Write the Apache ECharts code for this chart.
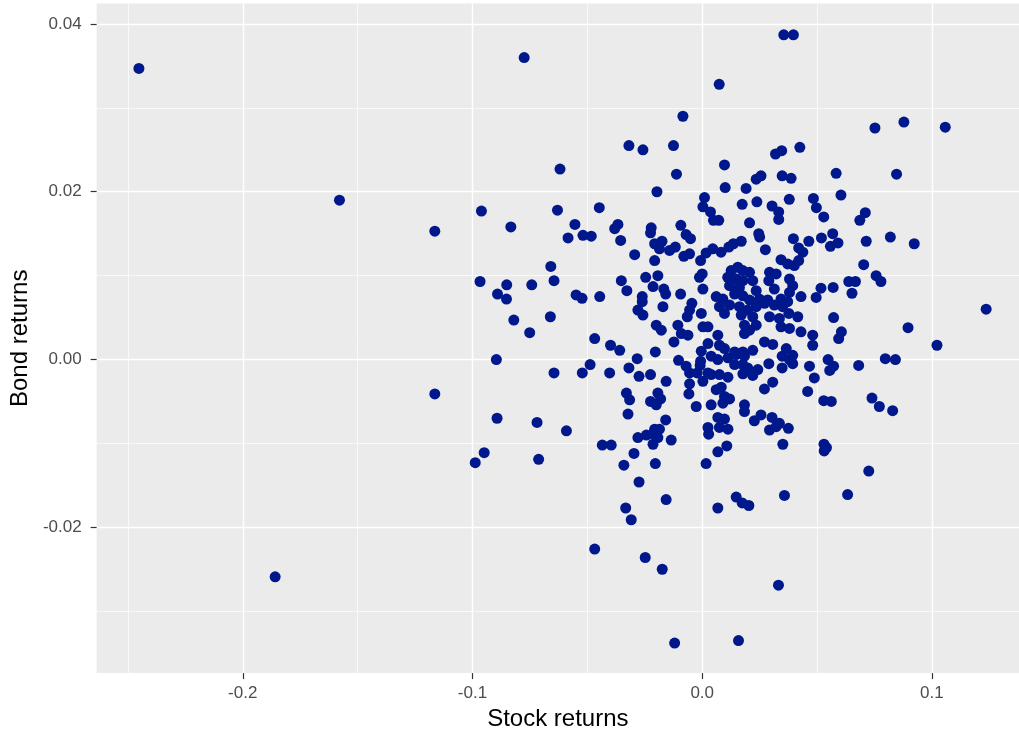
<!DOCTYPE html>
<html>
<head>
<meta charset="utf-8">
<script src="https://cdn.jsdelivr.net/npm/echarts@6/dist/echarts.min.js"></script>
<style>
  html, body { margin: 0; padding: 0; background: #fff; }
  #chart { width: 1019px; height: 736px; }
</style>
</head>
<body>
<div id="chart"></div>
<script>
// monthly returns (stock, bond)
var stockReturns = [
  -0.2452, -0.1579, -0.1859,
  -0.0775, -0.0619, -0.1164, -0.0961, -0.0833, -0.0630, -0.0554, -0.0448, -0.0584, -0.0519,
  -0.0483, -0.0659, -0.0967, -0.0851, -0.0742, -0.0645, -0.0891, -0.0852, -0.0549, -0.0523,
  -0.0446, -0.0820, -0.0661,
  -0.0751, -0.0468, -0.0896, -0.0645, -0.0522, -0.0488, -0.0403, -0.1164, -0.0893, -0.0719,
  -0.0591, -0.0435, -0.0396, -0.0949, -0.0988, -0.0712, -0.0468,
  0.0074, -0.0084, -0.0319, -0.0258, -0.0125, 0.0097, -0.0112,
  0.0355, 0.0397, 0.0752, 0.0878, 0.1058, 0.0425, 0.0319, 0.0346, 0.0583, 0.0846,
  -0.0197, 0.0010, 0.0003, 0.0036, 0.0049, -0.0367, -0.0381, -0.0355, -0.0222, -0.0225,
  -0.0093, -0.0070, -0.0051, -0.0207, -0.0175, -0.0186, -0.0142, -0.0117, -0.0294, -0.0080,
  -0.0055, -0.0207, -0.0007, 0.0017, 0.0046, -0.0352, -0.0328, -0.0246, -0.0193, -0.0214,
  -0.0167, -0.0159, -0.0094, -0.0012, 0.0000, 0.0003, -0.0261, -0.0261, -0.0171, -0.0280,
  -0.0258, -0.0045, -0.0055, -0.0065, -0.0004, -0.0200, -0.0178, -0.0106, -0.0091, -0.0062,
  0.0003, 0.0025, -0.0123, -0.0399, -0.0359, -0.0204, -0.0004, 0.0025,
  0.0072, 0.0100, 0.0191, 0.0235, 0.0256, 0.0348, 0.0387, 0.0174, 0.0238, 0.0304,
  0.0333, 0.0333, 0.0379, 0.0484, 0.0206, 0.0246, 0.0250, 0.0170, 0.0275, 0.0397,
  0.0420, 0.0438, 0.0464, 0.0082, 0.0116, 0.0136, 0.0343, 0.0372, 0.0401, 0.0420,
  0.0293, 0.0322, 0.0290, 0.0314, 0.0380, 0.0394, 0.0380, 0.0430,
  0.0126, 0.0155, 0.0177, 0.0206, 0.0111, 0.0148, 0.0177, 0.0220, 0.0119, 0.0162,
  0.0235, 0.0141, 0.0177, 0.0061, 0.0090, 0.0206, 0.0249, 0.0285, 0.0343, 0.0372,
  0.0075, 0.0119, 0.0162, 0.0198, 0.0235, 0.0271, 0.0314, 0.0350, 0.0097, 0.0170,
  0.0220, 0.0293, 0.0336, 0.0377, 0.0416, 0.0184, 0.0235, 0.0343, 0.0380, 0.0184,
  0.0206, 0.0430, 0.0481, 0.0068, 0.0271, 0.0307, 0.0075, 0.0097, 0.0481, 0.0141,
  0.0177, 0.0220, 0.0366, 0.0394,
  -0.0283, -0.0103, -0.0007, -0.0070, -0.0055, -0.0022, -0.0009, 0.0003, -0.0055, 0.0025,
  0.0039, 0.0039, -0.0319, -0.0275, -0.0225, -0.0157, -0.0330, -0.0316, -0.0225, -0.0193,
  -0.0181, -0.0200, -0.0058, -0.0026, 0.0039, -0.0323, -0.0159, -0.0280, -0.0243, -0.0207,
  -0.0186, -0.0214, -0.0193, -0.0214, -0.0135, 0.0025, 0.0028, -0.0297, -0.0341, -0.0204,
  0.0017, -0.0275, -0.0157, -0.0333, -0.0309, -0.0248, -0.0174, -0.0120,
  0.0068, 0.0112, 0.0148, 0.0184, 0.0141, 0.0177, 0.0198, 0.0242, 0.0290, 0.0348,
  0.0380, 0.0394, 0.0348, 0.0467, 0.0488, 0.0459, 0.0075, 0.0112, 0.0177, 0.0220,
  0.0061, 0.0083, 0.0271, 0.0307, 0.0097, 0.0119, 0.0090, 0.0184, 0.0184, 0.0068,
  0.0097, 0.0075, 0.0112, 0.0227, 0.0256, 0.0304, 0.0336, 0.0293, 0.0322, 0.0375,
  0.0107, 0.0068, 0.0351, 0.0148, 0.0174, 0.0203, 0.0068, 0.0358, 0.0332, 0.0158,
  0.0497, 0.0604, 0.0529, 0.0710, 0.0686, 0.0519, 0.0568, 0.0558, 0.0591, 0.0714,
  0.0819, 0.0923, 0.0703, 0.0757, 0.0778, 0.0638, 0.0667, 0.0652, 0.0517, 0.0570,
  0.0496, 0.1236, 0.0572, 0.0896, 0.1022, 0.0606, 0.0594, 0.0548, 0.0572, 0.0555,
  0.0681, 0.0797, 0.0841, 0.0529, 0.0562, 0.0739, 0.0771, 0.0829,
  0.0530, 0.0541, 0.0531, 0.0725, 0.0633
];
var bondReturns = [
  0.0347, 0.0190, -0.0259,
  0.0360, 0.0227, 0.0153, 0.0177, 0.0158, 0.0178, 0.0161, 0.0181, 0.0145, 0.0148,
  0.0147, 0.0111, 0.0093, 0.0089, 0.0089, 0.0094, 0.0078, 0.0072, 0.0077, 0.0073,
  0.0075, 0.0047, 0.0051,
  0.0032, 0.0025, 0.0000, -0.0016, -0.0016, -0.0006, -0.0016, -0.0041, -0.0070, -0.0075,
  -0.0085, -0.0102, -0.0102, -0.0111, -0.0123, -0.0119, -0.0226,
  0.0328, 0.0290, 0.0255, 0.0250, 0.0255, 0.0232, 0.0221,
  0.0387, 0.0387, 0.0276, 0.0283, 0.0277, 0.0253, 0.0245, 0.0249, 0.0222, 0.0221,
  0.0200, 0.0193, 0.0182, 0.0176, 0.0166, 0.0161, 0.0156, 0.0142, 0.0157, 0.0151,
  0.0160, 0.0149, 0.0144, 0.0138, 0.0141, 0.0132, 0.0130, 0.0134, 0.0125, 0.0123,
  0.0126, 0.0118, 0.0118, 0.0127, 0.0132, 0.0094, 0.0082, 0.0098, 0.0100, 0.0087,
  0.0084, 0.0078, 0.0078, 0.0098, 0.0102, 0.0084, 0.0075, 0.0069, 0.0063, 0.0059,
  0.0053, 0.0067, 0.0059, 0.0051, 0.0055, 0.0041, 0.0035, 0.0041, 0.0031, 0.0029,
  0.0039, 0.0039, 0.0021, 0.0017, 0.0011, 0.0009, 0.0010, 0.0019,
  0.0166, 0.0205, 0.0204, 0.0215, 0.0219, 0.0219, 0.0216, 0.0185, 0.0188, 0.0183,
  0.0176, 0.0167, 0.0191, 0.0192, 0.0163, 0.0150, 0.0146, 0.0141, 0.0131, 0.0144,
  0.0133, 0.0128, 0.0141, 0.0128, 0.0134, 0.0138, 0.0119, 0.0114, 0.0112, 0.0118,
  0.0104, 0.0102, 0.0094, 0.0084, 0.0096, 0.0088, 0.0080, 0.0075,
  0.0106, 0.0110, 0.0106, 0.0104, 0.0098, 0.0096, 0.0094, 0.0094, 0.0088, 0.0086,
  0.0082, 0.0078, 0.0076, 0.0075, 0.0072, 0.0071, 0.0072, 0.0071, 0.0072, 0.0069,
  0.0063, 0.0065, 0.0063, 0.0059, 0.0063, 0.0067, 0.0065, 0.0063, 0.0055, 0.0053,
  0.0051, 0.0051, 0.0049, 0.0055, 0.0051, 0.0041, 0.0041, 0.0039, 0.0037, 0.0031,
  0.0035, 0.0033, 0.0029, 0.0029, 0.0021, 0.0018, 0.0017, 0.0013, 0.0017, 0.0009,
  0.0009, 0.0011, 0.0013, 0.0005,
  0.0001, -0.0001, -0.0002, -0.0008, -0.0016, -0.0016, -0.0007, -0.0026, -0.0029, -0.0016,
  0.0004, -0.0018, -0.0010, -0.0020, -0.0018, -0.0026, -0.0040, -0.0048, -0.0050, -0.0040,
  -0.0047, -0.0054, -0.0041, -0.0056, -0.0054, -0.0065, -0.0072, -0.0093, -0.0090, -0.0083,
  -0.0083, -0.0089, -0.0093, -0.0101, -0.0096, -0.0081, -0.0089, -0.0112, -0.0126, -0.0124,
  -0.0124, -0.0146, -0.0167, -0.0177, -0.0191, -0.0236, -0.0250, -0.0338,
  0.0000, 0.0002, 0.0006, 0.0004, -0.0006, -0.0006, -0.0010, -0.0012, -0.0005, 0.0004,
  0.0000, -0.0005, -0.0010, -0.0008, -0.0022, -0.0038, -0.0018, -0.0021, -0.0017, -0.0019,
  -0.0036, -0.0033, -0.0035, -0.0027, -0.0044, -0.0047, -0.0052, -0.0054, -0.0062, -0.0069,
  -0.0071, -0.0081, -0.0083, -0.0073, -0.0066, -0.0069, -0.0076, -0.0084, -0.0080, -0.0082,
  -0.0103, -0.0110, -0.0101, -0.0164, -0.0171, -0.0174, -0.0177, -0.0162, -0.0269, -0.0335,
  0.0181, 0.0196, 0.0170, 0.0175, 0.0166, 0.0145, 0.0150, 0.0135, 0.0139, 0.0141,
  0.0146, 0.0138, 0.0113, 0.0100, 0.0093, 0.0093, 0.0093, 0.0079, 0.0085, 0.0086,
  0.0074, 0.0060, 0.0050, 0.0038, 0.0017, 0.0033, 0.0025, 0.0000, -0.0008, -0.0013,
  -0.0007, 0.0001, 0.0000, -0.0049, -0.0050, -0.0046, -0.0056, -0.0061,
  -0.0101, -0.0105, -0.0109, -0.0133, -0.0161
];

// tick labels
var xTicks = [-0.2, -0.1, 0.0, 0.1];
var yTicks = [-0.02, 0.00, 0.02, 0.04];

var points = stockReturns.map(function (s, i) {
  return [s, bondReturns[i]];
});

var chart = echarts.init(document.getElementById('chart'));

var labelStyle = {
  fontFamily: 'Liberation Sans',
  fontSize: 17,
  color: '#4D4D4D'
};
var titleStyle = {fontFamily: 'Liberation Sans', fontSize: 24, color: '#000'};

chart.setOption({
  animation: false,
  backgroundColor: '#ffffff',
  grid: {
    left: 96.5,
    right: 0,
    top: 3.5,
    bottom: 62,
    show: true,
    backgroundColor: '#EBEBEB',
    borderWidth: 0
  },
  xAxis: {
    type: 'value',
    min: -0.2636,
    max: 0.1379,
    splitNumber: 5,
    name: 'Stock returns',
    nameLocation: 'middle',
    nameGap: 33,
    nameTextStyle: titleStyle,
    axisLine: {show: false, onZero: false},
    axisTick: {
      show: true,
      length: 6,
      customValues: xTicks,
      lineStyle: {color: '#333333', width: 1.2}
    },
    axisLabel: Object.assign({
      margin: 12,
      customValues: xTicks,
      formatter: function (v) { return v.toFixed(1); }
    }, labelStyle),
    splitLine: {show: true, lineStyle: {color: '#ffffff', width: 1.4}},
    minorTick: {show: false, splitNumber: 2},
    minorSplitLine: {show: true, lineStyle: {color: '#ffffff', width: 0.7}}
  },
  yAxis: {
    type: 'value',
    min: -0.03738,
    max: 0.04244,
    splitNumber: 5,
    name: 'Bond returns',
    nameLocation: 'middle',
    nameGap: 63,
    nameTextStyle: titleStyle,
    axisLine: {show: false, onZero: false},
    axisTick: {
      show: true,
      length: 6,
      customValues: yTicks,
      lineStyle: {color: '#333333', width: 1.2}
    },
    axisLabel: Object.assign({
      margin: 15,
      customValues: yTicks,
      formatter: function (v) { return v.toFixed(2); }
    }, labelStyle),
    splitLine: {show: true, lineStyle: {color: '#ffffff', width: 1.4}},
    minorTick: {show: false, splitNumber: 2},
    minorSplitLine: {show: true, lineStyle: {color: '#ffffff', width: 0.7}}
  },
  series: [
    {
      type: 'scatter',
      data: points,
      symbol: 'circle',
      symbolSize: 11,
      itemStyle: {color: '#00188C', opacity: 1},
      emphasis: {disabled: true}
    }
  ]
});
</script>
</body>
</html>
